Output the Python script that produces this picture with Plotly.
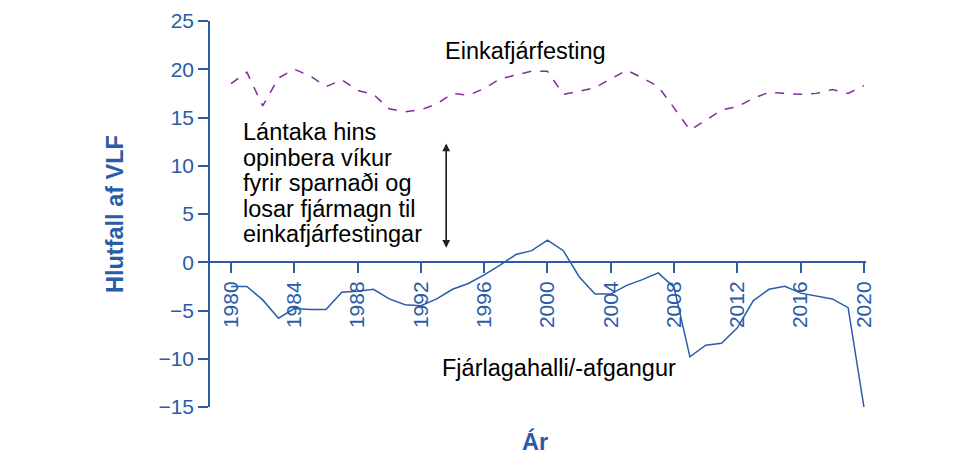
import plotly.graph_objects as go

# DATA
years = list(range(1980, 2021))

einkafjarfesting = [
    18.5, 19.7, 16.2, 19.1, 20.0, 19.3, 18.2, 18.9, 17.8, 17.4,
    15.9, 15.6, 15.8, 16.4, 17.5, 17.3, 18.0, 19.0, 19.4, 19.8,
    19.8, 17.4, 17.7, 18.1, 19.0, 19.9, 19.1, 18.2, 16.0, 13.7,
    14.7, 15.8, 16.1, 17.0, 17.6, 17.5, 17.4, 17.5, 17.9, 17.5,
    18.3,
]

fjarlagahalli = [
    -2.5, -2.5, -3.9, -5.8, -4.8, -4.9, -4.9, -3.1, -3.0, -2.8,
    -3.8, -4.4, -4.5, -3.8, -2.8, -2.2, -1.3, -0.3, 0.8, 1.2,
    2.3, 1.2, -1.5, -3.3, -3.3, -2.4, -1.8, -1.1, -2.6, -9.8,
    -8.6, -8.4, -6.8, -4.0, -2.8, -2.5, -3.2, -3.5, -3.8, -4.7,
    -15.0,
]

x_ticks = list(range(1980, 2021, 4))
y_ticks = [25, 20, 15, 10, 5, 0, -5, -10, -15]

note_text = ["Lántaka hins", "opinbera víkur", "fyrir sparnaði og",
             "losar fjármagn til", "einkafjárfestingar"]
note_y = [13.5, 10.85, 8.2, 5.55, 2.9]
arrow_year = 1993.6
arrow_top, arrow_bottom = 12.3, 1.5

BLUE = "#2B5CA8"
PURPLE = "#7E3094"
FONT = "Liberation Sans, Arial, sans-serif"
TXT = 23.5

fig = go.Figure()

fig.add_trace(go.Scatter(
    x=years, y=einkafjarfesting, mode="lines",
    line=dict(color=PURPLE, width=1.5, dash="dash"),
    showlegend=False, hoverinfo="skip",
))
fig.add_trace(go.Scatter(
    x=years, y=fjarlagahalli, mode="lines",
    line=dict(color=BLUE, width=1.5),
    showlegend=False, hoverinfo="skip",
))

# series labels
fig.add_annotation(x=1998.6, y=21.9, text="Einkafjárfesting", showarrow=False,
                   font=dict(size=TXT, color="black", family=FONT))
fig.add_annotation(x=2000.7, y=-11.0, text="Fjárlagahalli/-afgangur", showarrow=False,
                   font=dict(size=TXT, color="black", family=FONT))

# explanation text, one annotation per line
for line, yy in zip(note_text, note_y):
    fig.add_annotation(x=1980.65, y=yy, xanchor="left", yanchor="middle",
                       text=line, showarrow=False,
                       font=dict(size=TXT, color="black", family=FONT))

# double-headed arrow
for start, end in [(arrow_bottom, arrow_top), (arrow_top, arrow_bottom)]:
    fig.add_annotation(x=arrow_year, y=end, ax=arrow_year, ay=start,
                       xref="x", yref="y", axref="x", ayref="y",
                       text="", showarrow=True, arrowhead=2, arrowsize=1.2,
                       arrowwidth=1.3, arrowcolor="#222222")

# x axis title (axis itself sits at y = 0)
fig.add_annotation(x=0.495, y=-0.09, xref="paper", yref="paper",
                   text="<b>Ár</b>", showarrow=False, yanchor="middle",
                   font=dict(size=TXT, color=BLUE, family=FONT))

fig.update_layout(
    width=976, height=465,
    margin=dict(l=202, r=118, t=13, b=66),
    paper_bgcolor="white", plot_bgcolor="white",
    font=dict(family=FONT, color=BLUE),
    xaxis=dict(
        range=[1978.67, 2020.13],
        anchor="free", position=0.375, automargin=False,
        tickvals=x_ticks, ticktext=[str(t) for t in x_ticks],
        tickangle=-90, tickfont=dict(size=21, color=BLUE),
        ticks="outside", ticklen=10, tickwidth=1.5, tickcolor=BLUE,
        showline=True, linecolor=BLUE, linewidth=1.5,
        showgrid=False, zeroline=False,
    ),
    yaxis=dict(
        range=[-15, 25], automargin=False,
        tickvals=y_ticks, ticklabeloverflow="allow",
        tickfont=dict(size=21, color=BLUE),
        ticks="outside", ticklen=10, tickwidth=1.5, tickcolor=BLUE,
        showline=True, linecolor=BLUE, linewidth=1.5,
        showgrid=False, zeroline=False,
        title=dict(text="<b>Hlutfall af VLF</b>", font=dict(size=TXT, color=BLUE),
                   standoff=28),
    ),
)

fig.write_html("out.html")
